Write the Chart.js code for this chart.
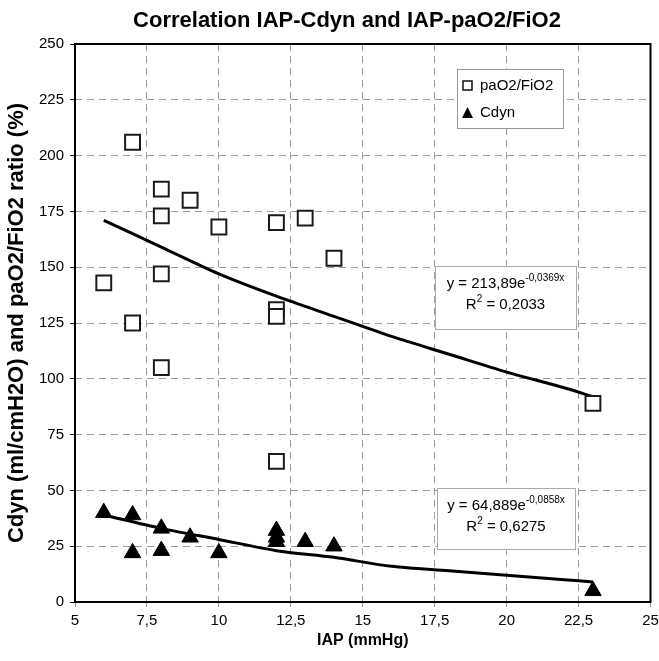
<!DOCTYPE html>
<html>
<head>
<meta charset="utf-8">
<script src="https://cdn.jsdelivr.net/npm/chart.js@4.4.0/dist/chart.umd.min.js"></script>
<style>
html, body { margin: 0; padding: 0; background: #fff; overflow: hidden; }
canvas { display: block; }
</style>
</head>
<body>
<canvas id="myChart" width="663" height="661"></canvas>
<script>
// tick labels on the x-axis (comma decimals as in the original)
var xTickLabels = ['5', '7,5', '10', '12,5', '15', '17,5', '20', '22,5', '25'];
// paO2/FiO2 measurements
var paIap = [6, 7, 7, 8, 8, 8, 8, 9, 10, 12, 12, 12, 12, 13, 14, 23];
var paRatio = [143, 206, 125, 185, 173, 147, 105, 180, 168, 170, 131, 128, 63, 172, 154, 89];
// Cdyn measurements
var cdIap = [6, 7, 7, 8, 8, 9, 10, 12, 12, 12, 13, 14, 23];
var cdyn = [40, 39, 22, 33, 23, 29, 22, 32, 29, 27, 27, 25, 5];
// trend lines
var trendIap = [6, 8, 10, 12, 14, 16, 18, 20, 22, 23];
var paTrend = [171, 159, 147, 137, 128, 119, 111, 103, 96, 92];
var cdTrend = [39, 33, 28, 23, 20, 16, 14, 12, 10, 9];

function pts(xs, ys) {
  return xs.map(function (x, i) { return { x: x, y: ys[i] }; });
}

var FONT = "'Liberation Sans', Arial, sans-serif";

// writes "main" followed by a raised small "sup" and an optional tail, centred on cx
function supText(ctx, cx, y, main, sup, tail) {
  ctx.font = '15px ' + FONT;
  var w1 = ctx.measureText(main).width;
  var w3 = tail ? ctx.measureText(tail).width : 0;
  ctx.font = '10px ' + FONT;
  var w2 = ctx.measureText(sup).width;
  var x = cx - (w1 + w2 + w3) / 2;
  ctx.textAlign = 'left';
  ctx.textBaseline = 'middle';
  ctx.font = '15px ' + FONT;
  ctx.fillText(main, x, y);
  ctx.font = '10px ' + FONT;
  ctx.fillText(sup, x + w1, y - 6);
  if (tail) {
    ctx.font = '15px ' + FONT;
    ctx.fillText(tail, x + w1 + w2, y);
  }
}

var overlay = {
  id: 'overlay',
  afterDatasetsDraw: function (chart) {
    var ctx = chart.ctx, a = chart.chartArea;
    ctx.save();
    // frame
    ctx.strokeStyle = '#000';
    ctx.lineWidth = 2;
    ctx.strokeRect(a.left, a.top, a.right - a.left, a.bottom - a.top);

    // title
    ctx.fillStyle = '#000';
    ctx.textAlign = 'center';
    ctx.textBaseline = 'middle';
    ctx.font = 'bold 22px ' + FONT;
    ctx.fillText('Correlation IAP-Cdyn and IAP-paO2/FiO2', 347, 21);

    // legend
    ctx.fillStyle = '#fff';
    ctx.fillRect(457, 69, 106, 59);
    ctx.strokeStyle = '#999';
    ctx.lineWidth = 1;
    ctx.strokeRect(457.5, 69.5, 106, 59);
    ctx.strokeStyle = '#111';
    ctx.lineWidth = 1.5;
    ctx.strokeRect(463, 81, 9, 9);
    ctx.fillStyle = '#000';
    ctx.beginPath();
    ctx.moveTo(467.5, 107);
    ctx.lineTo(473, 118);
    ctx.lineTo(462, 118);
    ctx.closePath();
    ctx.fill();
    ctx.font = '15px ' + FONT;
    ctx.textAlign = 'left';
    ctx.textBaseline = 'middle';
    ctx.fillText('paO2/FiO2', 480, 86);
    ctx.fillText('Cdyn', 480, 113);

    // equation boxes
    var boxes = [
      { x: 435, y: 266, w: 141, h: 63, m: 'y = 213,89e', s: '-0,0369x', r: '0,2033' },
      { x: 437, y: 488, w: 138, h: 61, m: 'y = 64,889e', s: '-0,0858x', r: '0,6275' }
    ];
    boxes.forEach(function (b) {
      ctx.fillStyle = '#fff';
      ctx.fillRect(b.x, b.y, b.w, b.h);
      ctx.strokeStyle = '#aaa';
      ctx.lineWidth = 1;
      ctx.strokeRect(b.x + 0.5, b.y + 0.5, b.w, b.h);
      ctx.fillStyle = '#000';
      var cx = b.x + b.w / 2;
      supText(ctx, cx, b.y + 18, b.m, b.s);
      supText(ctx, cx, b.y + 39, 'R', '2', ' = ' + b.r);
    });
    ctx.restore();
  }
};

var ctx = document.getElementById('myChart');
var myChart = new Chart(ctx, {
  type: 'scatter',
  data: {
    datasets: [
      {
        label: 'paO2/FiO2',
        data: pts(paIap, paRatio),
        pointStyle: 'rect',
        pointRadius: 10.5,
        backgroundColor: '#fff',
        borderColor: '#1a1a1a',
        borderWidth: 2
      },
      {
        label: 'Cdyn',
        data: pts(cdIap, cdyn),
        pointStyle: 'triangle',
        pointRadius: 9.5,
        backgroundColor: '#000',
        borderColor: '#000',
        borderWidth: 1
      },
      {
        label: 'paO2/FiO2 trend',
        data: pts(trendIap, paTrend),
        showLine: true,
        pointRadius: 0,
        borderColor: '#000',
        borderWidth: 3,
        tension: 0.3,
        fill: false
      },
      {
        label: 'Cdyn trend',
        data: pts(trendIap, cdTrend),
        showLine: true,
        pointRadius: 0,
        borderColor: '#000',
        borderWidth: 3,
        tension: 0.3,
        fill: false
      }
    ]
  },
  options: {
    responsive: false,
    animation: false,
    layout: { padding: { top: 44, left: 0, right: 0, bottom: 0 } },
    plugins: {
      legend: { display: false },
      title: { display: false },
      tooltip: { enabled: false }
    },
    scales: {
      x: {
        type: 'linear',
        min: 5,
        max: 25,
        ticks: {
          stepSize: 2.5,
          color: '#000',
          font: { family: FONT, size: 15 },
          padding: 0,
          callback: function (v, i) { return xTickLabels[i]; }
        },
        grid: {
          color: '#9a9a9a',
          lineWidth: 1,
          tickColor: '#9a9a9a',
          tickLength: 10,
          tickBorderDash: [5, 5]
        },
        border: { display: false, dash: [7, 5] },
        title: {
          display: true,
          text: 'IAP (mmHg)',
          color: '#000',
          font: { family: FONT, size: 16, weight: 'bold' },
          padding: { top: 6, bottom: 11 }
        },
        afterFit: function (s) { s.height = 59; }
      },
      y: {
        min: 0,
        max: 250,
        ticks: {
          stepSize: 25,
          color: '#000',
          font: { family: FONT, size: 15 },
          padding: 6
        },
        grid: {
          color: '#9a9a9a',
          lineWidth: 1,
          tickColor: '#000',
          tickLength: 5
        },
        border: { display: false, dash: [7, 5] },
        title: {
          display: true,
          text: 'Cdyn (ml/cmH2O) and paO2/FiO2 ratio (%)',
          color: '#000',
          font: { family: FONT, size: 22, weight: 'bold' },
          padding: { top: 4, bottom: 0 }
        },
        afterFit: function (s) { s.width = 75; }
      }
    }
  },
  plugins: [overlay]
});
</script>
</body>
</html>
